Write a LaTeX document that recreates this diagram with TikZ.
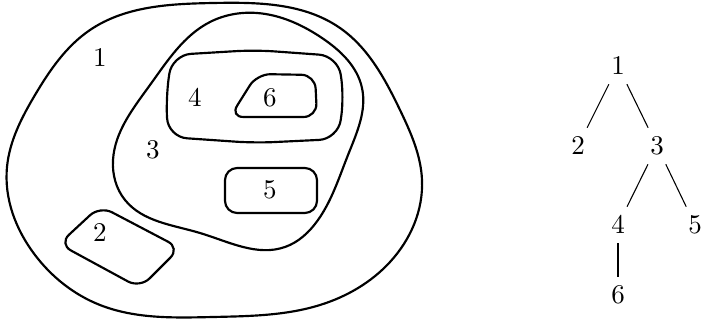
\documentclass[tikz,border=0pt]{standalone}
\usetikzlibrary{hobby}
\begin{document}
\begin{tikzpicture}[x=0.013cm, y=-0.013cm,
    region/.style={thick},
    vertex/.style={inner sep=3.33pt}]
    \useasboundingbox (0,0) rectangle (701,320);
    % nested regions
    \draw[region] plot[closed hobby] coordinates {(213,3) (340,28) (400,110) (422,180) (390,262) (320,305) (213,317) (100,305) (35,255) (7,167) (35,95) (90,30)};
    \draw[region] plot[closed hobby] coordinates {(257,13) (322,38) (362,88) (348,155) (318,220) (285,247) (200,233) (125,200) (113,160) (150,85) (210,22)};
    \draw[region, rounded corners=7pt] (172,55) -- (255,50) -- (338,56) -- (344,97) -- (338,139) -- (255,143) -- (168,137) -- (166,97) -- cycle;
    \draw[region, rounded corners=5pt] (257,74) -- (315,75) -- (317,117) -- (230,117) -- cycle;
    \draw[region, rounded corners=4.5pt] (225,168) rectangle (317,213);
    \draw[region, rounded corners=5pt] (100,206) -- (180,248) -- (140,288) -- (59,244) -- cycle;
    \node (r1) at (100,58) {$1$};
    \node (r2) at (100,233) {$2$};
    \node (r3) at (153,150) {$3$};
    \node (r4) at (195,98) {$4$};
    \node (r5) at (270,190) {$5$};
    \node (r6) at (270,98) {$6$};
    % tree
    \node[vertex] (t1) at (618,66) {$1$};
    \node[vertex] (t2) at (578,146) {$2$};
    \node[vertex] (t3) at (657,146) {$3$};
    \node[vertex] (t4) at (618,225) {$4$};
    \node[vertex] (t5) at (695,225) {$5$};
    \node[vertex] (t6) at (618,295) {$6$};
    \draw (t1) -- (t2);
    \draw (t1) -- (t3);
    \draw (t3) -- (t4);
    \draw (t3) -- (t5);
    \draw (t4) -- (t6);
\end{tikzpicture}
\end{document}
